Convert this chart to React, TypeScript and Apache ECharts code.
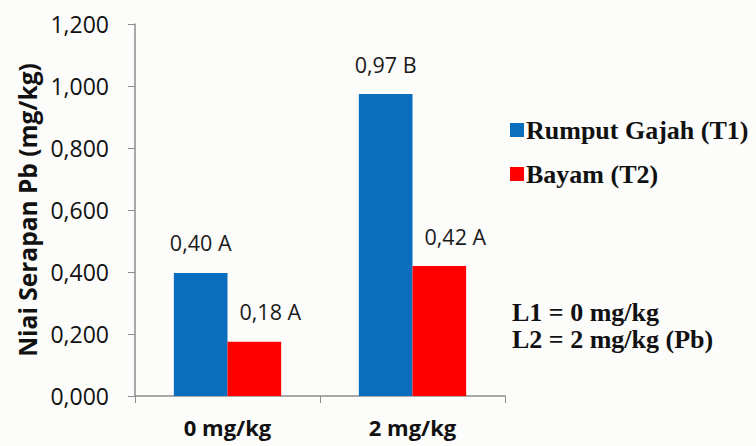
import React, { useEffect, useRef } from "react";
import * as echarts from "echarts";

const categories = ["0 mg/kg", "2 mg/kg"];
const seriesNames = ["Rumput Gajah (T1)", "Bayam (T2)"];
const rumputValues = [0.397, 0.974];
const bayamValues = [0.175, 0.419];
const rumputLabels = ["0,40 A", "0,97 B"];
const bayamLabels = ["0,18 A", "0,42 A"];
const noteLines = ["L1 = 0 mg/kg", "L2 = 2 mg/kg (Pb)"];
const yTitle = "Niai Serapan Pb (mg/kg)";

export default function App() {
  const ref = useRef<HTMLDivElement>(null);
  useEffect(() => {
    document.body.style.margin = "0";
    const chart = echarts.init(ref.current!, null, { renderer: "svg" });
    const labelFont = { fontFamily: "Open Sans", fontSize: 21.5, color: "#1a1a1a" };
    chart.setOption({
      animation: false,
      backgroundColor: "#fcfcfa",
      grid: { left: 135, right: 251, top: 24, bottom: 50 },
      legend: {
        orient: "vertical",
        left: 505,
        top: 112,
        icon: "rect",
        itemWidth: 14,
        itemHeight: 14,
        itemGap: 18,
        textStyle: {
          fontFamily: "Liberation Serif",
          fontWeight: "bold",
          fontSize: 26,
          lineHeight: 26,
          color: "#111",
          padding: [0, 0, 0, -3],
        },
        data: seriesNames,
      },
      xAxis: {
        type: "category",
        data: categories,
        axisLine: { lineStyle: { color: "#8c8c8c", width: 1.5 } },
        axisTick: { show: true, length: 7, lineStyle: { color: "#8c8c8c" } },
        axisLabel: {
          fontFamily: "Open Sans",
          fontWeight: "bold",
          fontSize: 22,
          color: "#111",
          margin: 20,
        },
      },
      yAxis: {
        type: "value",
        min: 0,
        max: 1.2,
        interval: 0.2,
        name: yTitle,
        nameLocation: "middle",
        nameGap: 95,
        nameTextStyle: {
          fontFamily: "Open Sans",
          fontWeight: "bold",
          fontSize: 24.5,
          color: "#111",
        },
        axisLine: { show: true, lineStyle: { color: "#8c8c8c", width: 1.5 } },
        axisTick: { show: true, length: 7, lineStyle: { color: "#8c8c8c" } },
        splitLine: { show: false },
        axisLabel: {
          fontFamily: "Open Sans",
          fontSize: 23,
          color: "#111",
          margin: 26,
          formatter: (v: number) => v.toFixed(3).replace(".", ","),
        },
      },
      series: [
        {
          name: seriesNames[0],
          type: "bar",
          data: rumputValues,
          barWidth: "29%",
          barGap: "0%",
          itemStyle: { color: "#0A6EBE" },
          label: {
            show: true,
            position: "top",
            distance: 19,
            ...labelFont,
            formatter: (p: any) => rumputLabels[p.dataIndex],
          },
        },
        {
          name: seriesNames[1],
          type: "bar",
          data: bayamValues,
          barWidth: "29%",
          barGap: "0%",
          itemStyle: { color: "#FF0000" },
          label: {
            show: true,
            position: "top",
            distance: 19,
            offset: [16, 0],
            ...labelFont,
            formatter: (p: any) => bayamLabels[p.dataIndex],
          },
        },
      ],
      graphic: noteLines.map((t, i) => ({
        type: "text",
        left: 512,
        top: 299 + i * 27,
        style: {
          text: t,
          fontFamily: "Liberation Serif",
          fontWeight: "bold",
          fontSize: 26,
          fill: "#111",
        },
      })),
    });
    return () => chart.dispose();
  }, []);
  return <div ref={ref} style={{ width: 756, height: 446 }} />;
}
